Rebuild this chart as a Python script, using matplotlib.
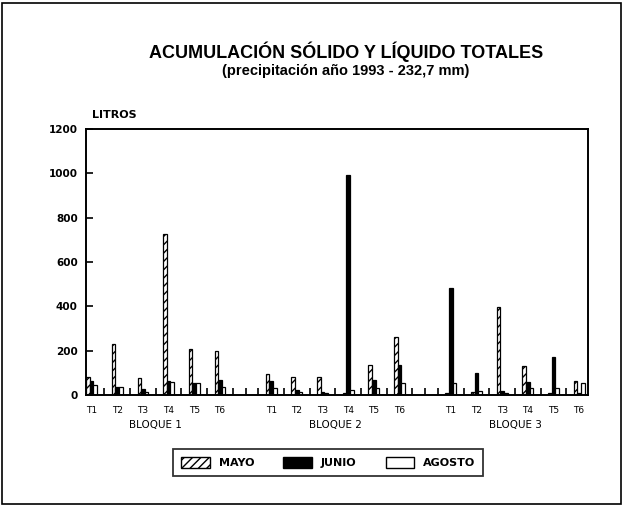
import numpy as np
import matplotlib
matplotlib.use("Agg")
import matplotlib.pyplot as plt
from matplotlib.patches import Rectangle

plt.rcParams['font.family'] = ['Liberation Sans', 'DejaVu Sans']
plt.rcParams['hatch.linewidth'] = 1.0

# litros acumulados por tratamiento (T1..T6) en cada bloque
tratamientos = ['T1', 'T2', 'T3', 'T4', 'T5', 'T6']
bloques = ['BLOQUE 1', 'BLOQUE 2', 'BLOQUE 3']

mayo = [80, 228, 78, 726, 207, 200,
        95, 83, 83, 8, 135, 262,
        8, 15, 397, 130, 10, 65]
junio = [65, 38, 25, 65, 55, 68,
         65, 22, 15, 992, 70, 135,
         483, 100, 20, 60, 170, 8]
agosto = [45, 35, 15, 58, 55, 37,
          30, 12, 10, 22, 30, 55,
          52, 20, 10, 32, 30, 55]

yticks = [0, 200, 400, 600, 800, 1000, 1200]

# posiciones: 6 tratamientos por bloque y un hueco entre bloques
pos = np.array([b * 7 + t for b in range(3) for t in range(6)], dtype=float)
w = 0.14

fig = plt.figure(figsize=(6.23, 5.08), dpi=100)
ax = fig.add_axes([0.138, 0.2224, 0.806, 0.5236])

ax.bar(pos - w, mayo, width=w, color='white', edgecolor='black', hatch='////', linewidth=0.9)
ax.bar(pos, junio, width=w, color='black', edgecolor='black', linewidth=0.9)
ax.bar(pos + w, agosto, width=w, color='white', edgecolor='black', linewidth=0.9)

ax.set_xlim(-0.22, 19.35)
ax.set_ylim(0, 1200)
ax.set_yticks(yticks)
ax.set_yticklabels([str(v) for v in yticks], fontsize=7.5, fontweight='bold',
                   family=['DejaVu Sans'])
ax.tick_params(axis='y', direction='in', length=5, width=1.2, pad=6)

ax.set_xticks(pos)
ax.set_xticklabels(tratamientos * 3, fontsize=6.5, family=['DejaVu Sans'])
ax.tick_params(axis='x', which='major', length=0, pad=8)
small = [x for x in np.arange(0.5, 19.01, 0.5) if x not in pos]
ax.set_xticks(small, minor=True)
ax.tick_params(axis='x', which='minor', direction='in', length=5, width=1.2)

for s in ax.spines.values():
    s.set_linewidth(1.4)

for i, b in enumerate(bloques):
    ax.text(i * 7 + 2.5, -0.113, b, transform=ax.get_xaxis_transform(),
            ha='center', va='center', fontsize=7.5, family=['DejaVu Sans'])

ax.text(0.012, 1.053, 'LITROS', transform=ax.transAxes, ha='left', va='center',
        fontsize=8, fontweight='bold', family=['DejaVu Sans'])

fig.text(0.555, 1 - 52 / 508, 'ACUMULACIÓN SÓLIDO Y LÍQUIDO TOTALES',
         ha='center', va='center', fontsize=13, fontweight='bold')
fig.text(0.555, 1 - 71 / 508, '(precipitación año 1993 - 232,7 mm)',
         ha='center', va='center', fontsize=10.5, fontweight='bold')

handles = [Rectangle((0, 0), 1, 1, facecolor='white', edgecolor='black', hatch='////'),
           Rectangle((0, 0), 1, 1, facecolor='black', edgecolor='black'),
           Rectangle((0, 0), 1, 1, facecolor='white', edgecolor='black')]
leg = fig.legend(handles, ['MAYO', 'JUNIO', 'AGOSTO'], loc='center',
                 bbox_to_anchor=(0.527, 0.089), ncol=3, fancybox=False,
                 edgecolor='black', handlelength=2.6, handleheight=1.1,
                 columnspacing=2.6, borderpad=0.7,
                 prop={'size': 8, 'weight': 'bold', 'family': 'DejaVu Sans'})
leg.get_frame().set_linewidth(1.3)

# marco exterior
fig.patches.append(Rectangle((0.004, 0.008), 0.992, 0.986, transform=fig.transFigure,
                             fill=False, edgecolor='black', linewidth=1.2))

fig.savefig('out.png', dpi=100)
